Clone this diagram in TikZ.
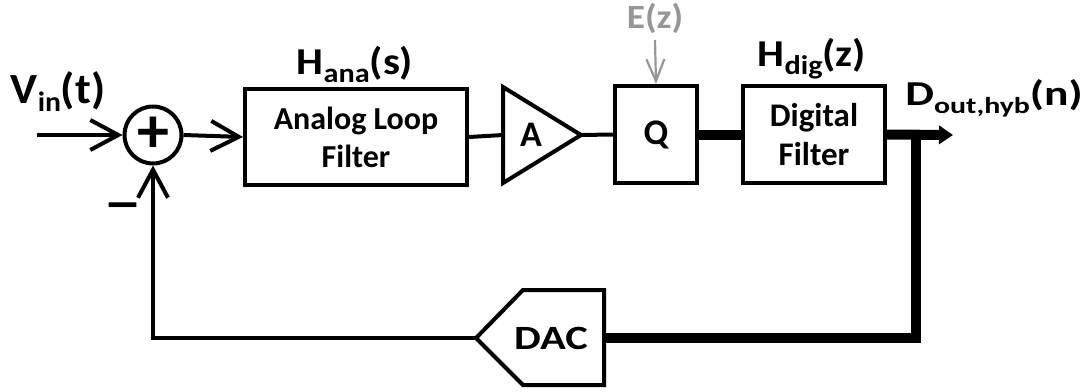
\documentclass[tikz,border=0pt]{standalone}
\usepackage{graphicx}
\usepackage{fontspec}
\setmainfont{Carlito}
\usetikzlibrary{arrows.meta}
\definecolor{egray}{RGB}{150,150,150}
\newcommand{\sx}[2]{\scalebox{#1}[1]{#2}}
\newcommand{\sbs}[2]{\raisebox{-8pt}{\fontsize{#1}{#1}\selectfont #2}}
\begin{document}
\begin{tikzpicture}[x=1pt,y=-1pt,line join=miter,
  thinw/.style={line width=4pt},
  thickw/.style={line width=10pt},
  barb/.style={-{Straight Barb[length=28pt,width=30pt,line width=4pt]}},
  blk/.style={draw,line width=4pt,inner sep=0pt,align=center,
    font=\fontsize{32}{38}\selectfont\bfseries},
  lbl/.style={anchor=base,inner sep=0pt},
  big/.style={font=\fontsize{38}{38}\selectfont\bfseries},
]
\useasboundingbox (0,0) rectangle (1091,391);

% blocks
\node[circle,draw,line width=4pt,minimum size=57pt,inner sep=0pt,
  font=\fontsize{64}{64}\selectfont\bfseries] (sum) at (153,135) {+};
\node[blk,minimum width=222pt,minimum height=96pt] (ana) at (356,137) {Analog Loop\\Filter};
\node[blk,minimum width=82pt,minimum height=97pt,font=\fontsize{36}{36}\selectfont\bfseries] (Q) at (656,134.5) {Q};
\node[blk,minimum width=142pt,minimum height=97pt,font=\fontsize{33}{39}\selectfont\bfseries] (dig) at (814,134.5) {Digital\\Filter};

% amplifier
\draw[thinw] (503,87) -- (581,135) -- (503,183) -- cycle;
\coordinate (ampin) at (503,135);
\coordinate (ampout) at (581,135);
\node[font=\fontsize{36}{36}\selectfont\bfseries] (amp) at (531,135) {A};

% DAC
\draw[thinw] (476,338) -- (523,290) -- (604,290) -- (604,385) -- (523,385) -- cycle;
\coordinate (dacL) at (476,338);
\coordinate (dacR) at (604,338);
\node[font=\fontsize{34}{34}\selectfont\bfseries] (dac) at (551,338) {\sx{1.25}{DAC}};

% labels
\node[lbl,font=\fontsize{43}{43}\selectfont\bfseries] (vin) at (58,103) {\sx{1.06}{V\sbs{28}{in}(t)}};
\node[lbl,big] (hana) at (355,74) {\sx{1.12}{H\sbs{27}{ana}(s)}};
\node[lbl,big] (hdig) at (812,66) {\sx{1.12}{H\sbs{27}{dig}(z)}};
\node[lbl,font=\fontsize{35}{35}\selectfont\bfseries] (dout) at (994,105) {\sx{1.3}{D\sbs{23}{out,hyb}(n)}};
\node[lbl,font=\fontsize{34}{34}\selectfont\bfseries,text=egray] (E) at (655,28) {\sx{1.1}{E(z)}};
\node[inner sep=0pt,font=\fontsize{54}{54}\selectfont\bfseries] (minus) at (123,212) {\sx{1.45}{–}};

% connectors
\coordinate (in) at (37,135);
\coordinate (out) at (953,135);
\coordinate (tap) at (916,135);
\coordinate (eTop) at (655,40);
\draw[thinw,barb] (in) -- (sum.west);
\draw[thinw,barb] (sum.east) -- (ana.west);
\draw[thinw] (ana.east) -- (ampin);
\draw[thinw] (ampout) -- (Q.west);
\draw[thickw] (Q.east) -- (dig.west);
\draw[thickw,-{Triangle[length=14pt,width=18pt]}] (dig.east) -- (out);
\draw[thickw] (tap) |- (dacR);
\draw[thinw,barb] (dacL) -| (sum.south);
\draw[line width=2.2pt,egray,-{Straight Barb[length=22pt,width=18pt,line width=2.2pt]}] (eTop) -- (Q.north);
\end{tikzpicture}
\end{document}
